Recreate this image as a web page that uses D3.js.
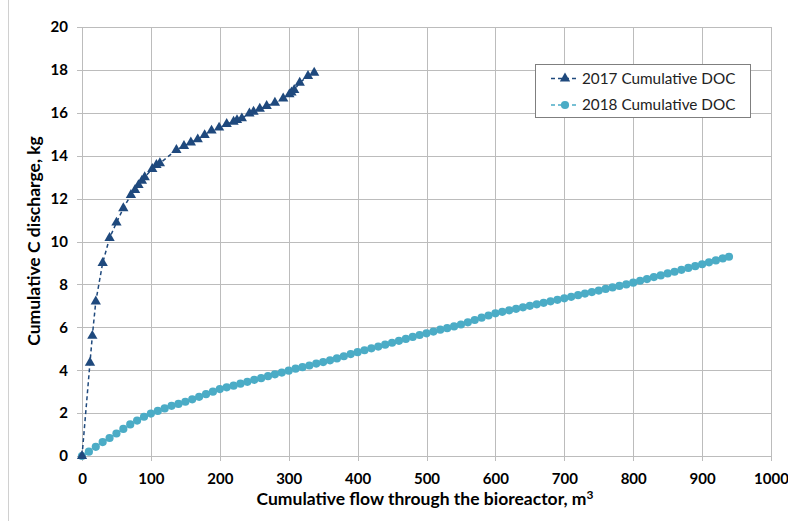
<!DOCTYPE html>
<html>
<head>
<meta charset="utf-8">
<script src="https://cdn.jsdelivr.net/npm/d3@7"></script>
<style>
  html, body { margin: 0; padding: 0; background: #fff; }
  svg { display: block; font-family: Lato, "Open Sans", sans-serif; }
</style>
</head>
<body>
<svg id="chart" width="788" height="521"></svg>
<script>
// ---- data ----
const flow2017 = [0, 11.6, 15, 20, 30, 40, 50, 60, 71, 77, 82, 87, 91, 102, 108, 113, 137, 148, 158, 168, 178, 188, 199, 210, 220, 225, 232, 243, 249, 258, 268, 280, 292, 301, 304, 308, 316, 328, 337];
const doc2017 = [0, 4.35, 5.6, 7.2, 9.0, 10.16, 10.88, 11.55, 12.17, 12.4, 12.63, 12.83, 13.0, 13.38, 13.57, 13.65, 14.27, 14.45, 14.62, 14.76, 14.96, 15.17, 15.31, 15.48, 15.58, 15.66, 15.74, 15.97, 16.05, 16.19, 16.32, 16.47, 16.67, 16.86, 16.95, 17.06, 17.4, 17.72, 17.87];

const flow2018 = [0, 10, 20, 30, 40, 50, 60, 70, 80, 90, 100, 110, 120, 130, 140, 150, 160, 170, 180, 190, 200, 210, 220, 230, 240, 250, 260, 270, 280, 290, 300, 310, 320, 330, 340, 350, 360, 370, 380, 390, 400, 410, 420, 430, 440, 450, 460, 470, 480, 490, 500, 510, 520, 530, 540, 550, 560, 570, 580, 590, 600, 610, 620, 630, 640, 650, 660, 670, 680, 690, 700, 710, 720, 730, 740, 750, 760, 770, 780, 790, 800, 810, 820, 830, 840, 850, 860, 870, 880, 890, 900, 910, 920, 930, 939];
const doc2018 = [0, 0.20, 0.43, 0.65, 0.84, 1.05, 1.26, 1.47, 1.65, 1.83, 1.98, 2.10, 2.22, 2.34, 2.43, 2.53, 2.64, 2.76, 2.88, 3.00, 3.12, 3.20, 3.28, 3.37, 3.46, 3.55, 3.63, 3.72, 3.81, 3.89, 3.98, 4.07, 4.14, 4.22, 4.31, 4.38, 4.46, 4.55, 4.65, 4.75, 4.84, 4.93, 5.02, 5.10, 5.19, 5.28, 5.37, 5.46, 5.55, 5.64, 5.72, 5.80, 5.89, 5.96, 6.04, 6.13, 6.23, 6.34, 6.45, 6.55, 6.65, 6.72, 6.79, 6.86, 6.93, 7.00, 7.07, 7.14, 7.21, 7.28, 7.35, 7.42, 7.50, 7.57, 7.64, 7.71, 7.79, 7.86, 7.93, 8.00, 8.08, 8.17, 8.25, 8.34, 8.42, 8.51, 8.59, 8.68, 8.77, 8.85, 8.94, 9.03, 9.12, 9.21, 9.29];

const xTicks = [0, 100, 200, 300, 400, 500, 600, 700, 800, 900, 1000];
const yTicks = [0, 2, 4, 6, 8, 10, 12, 14, 16, 18, 20];
const seriesNames = ["2017 Cumulative DOC", "2018 Cumulative DOC"];
const xTitle = "Cumulative flow through the bioreactor, m";
const yTitle = "Cumulative C discharge, kg";

// ---- drawing ----
const svg = d3.select("#chart");
const margin = { left: 82, right: 17, top: 27, bottom: 65 };
const W = 788, H = 521;
const x = d3.scaleLinear().domain([0, 1000]).range([margin.left, W - margin.right]);
const y = d3.scaleLinear().domain([0, 20]).range([H - margin.bottom, margin.top]);

const c2017 = "#1f497d", c2018 = "#4bacc6", gridC = "#bcbcbc", txt = "#000";

// outer border line (left)
svg.append("line").attr("x1", 8.5).attr("x2", 8.5).attr("y1", 0).attr("y2", H)
  .attr("stroke", "#d0d0d0").attr("stroke-width", 1);

// gridlines
const g = svg.append("g");
g.selectAll("line.hg").data(yTicks).join("line")
  .attr("x1", x(0) - 5).attr("x2", x(1000))
  .attr("y1", d => Math.round(y(d)) + 0.5).attr("y2", d => Math.round(y(d)) + 0.5)
  .attr("stroke", gridC).attr("stroke-width", 1);
g.selectAll("line.vg").data(xTicks).join("line")
  .attr("y1", y(20)).attr("y2", y(0) + 5)
  .attr("x1", d => Math.round(x(d)) + 0.5).attr("x2", d => Math.round(x(d)) + 0.5)
  .attr("stroke", gridC).attr("stroke-width", 1);

// axes (labels via d3 axis)
const xAxis = d3.axisBottom(x).tickValues(xTicks).tickSize(0).tickPadding(17).tickFormat(d3.format("d"));
const yAxis = d3.axisLeft(y).tickValues(yTicks).tickSize(0).tickPadding(14).tickFormat(d3.format("d"));
const gx = svg.append("g").attr("transform", `translate(0,${y(0)})`).call(xAxis);
const gy = svg.append("g").attr("transform", `translate(${x(0)},0)`).call(yAxis);
[gx, gy].forEach(a => {
  a.select(".domain").remove();
  a.selectAll("text").attr("font-family", "Lato, sans-serif").attr("font-size", 15)
    .attr("font-weight", "bold").attr("fill", txt);
});

// axis titles
const xt = svg.append("text").attr("x", 425).attr("y", 505).attr("text-anchor", "middle")
  .attr("font-size", 17.5).attr("font-weight", "bold").attr("fill", txt).text(xTitle);
xt.append("tspan").attr("dy", -6).attr("font-size", 12).text("3");
svg.append("text").attr("transform", `translate(40,${241}) rotate(-90)`).attr("text-anchor", "middle")
  .attr("font-size", 17.5).attr("font-weight", "bold").attr("fill", txt).text(yTitle);

// series
const d17 = flow2017.map((f, i) => [f, doc2017[i]]);
const d18 = flow2018.map((f, i) => [f, doc2018[i]]);
const line = d3.line().x(d => x(d[0])).y(d => y(d[1]));

svg.append("path").datum(d18).attr("d", line).attr("fill", "none")
  .attr("stroke", c2018).attr("stroke-width", 1.5).attr("stroke-dasharray", "4,3");
svg.append("g").selectAll("circle").data(d18).join("circle")
  .attr("cx", d => x(d[0])).attr("cy", d => y(d[1])).attr("r", 4.1).attr("fill", c2018);

svg.append("path").datum(d17).attr("d", line).attr("fill", "none")
  .attr("stroke", c2017).attr("stroke-width", 1.5).attr("stroke-dasharray", "4,3");
const tri = d3.symbol().type(d3.symbolTriangle).size(46);
svg.append("g").selectAll("path").data(d17).join("path")
  .attr("transform", d => `translate(${x(d[0])},${y(d[1])})`).attr("d", tri).attr("fill", c2017);

// legend
const lg = svg.append("g");
lg.append("rect").attr("x", 535.5).attr("y", 64.5).attr("width", 215).attr("height", 53)
  .attr("fill", "#fff").attr("stroke", "#7f7f7f").attr("stroke-width", 1);
const rows = [
  { name: seriesNames[0], color: c2017, sym: "tri", yy: 78.5 },
  { name: seriesNames[1], color: c2018, sym: "circ", yy: 105 }
];
rows.forEach(r => {
  lg.append("line").attr("x1", 551).attr("x2", 579).attr("y1", r.yy).attr("y2", r.yy)
    .attr("stroke", r.color).attr("stroke-width", 1.5).attr("stroke-dasharray", "4,3");
  if (r.sym === "tri") {
    lg.append("path").attr("transform", `translate(565,${r.yy})`).attr("d", tri).attr("fill", r.color);
  } else {
    lg.append("circle").attr("cx", 565).attr("cy", r.yy).attr("r", 4.1).attr("fill", r.color);
  }
  lg.append("text").attr("x", 582).attr("y", r.yy + 5).attr("font-size", 15.3)
    .attr("fill", "#222").text(r.name);
});
</script>
</body>
</html>
